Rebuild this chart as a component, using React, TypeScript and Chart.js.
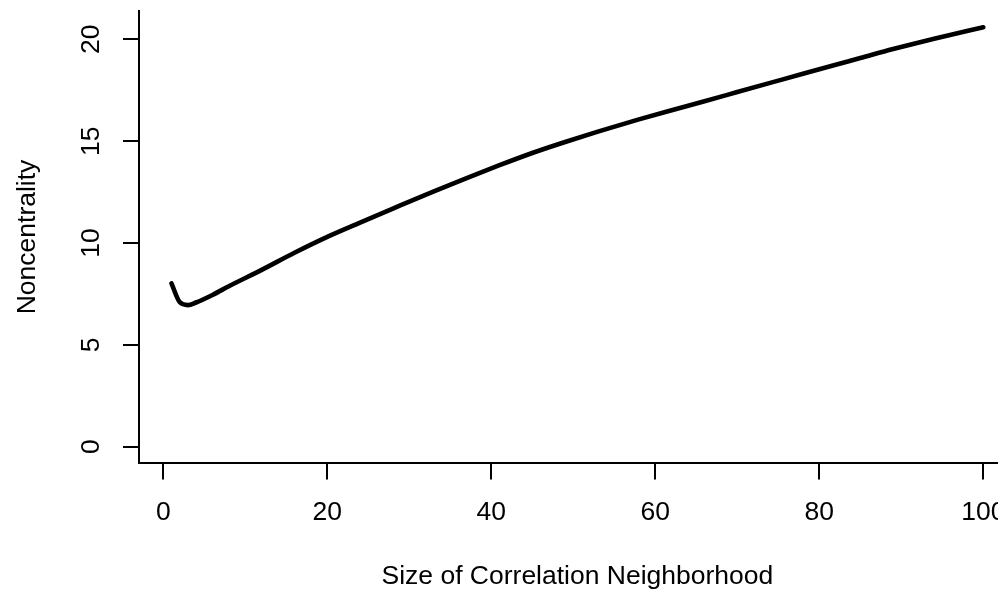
import React, { useEffect, useRef } from 'react';
import { Chart, registerables } from 'chart.js';

Chart.register(...registerables);

// Data
const NEIGHBORHOOD_SIZE = [1, 2, 3, 4, 6, 8, 12, 16, 20, 24, 28, 33, 37, 41, 45, 49, 53, 58, 62, 66, 70, 74, 78, 82, 85, 89, 94, 98, 100];
const NONCENTRALITY = [8.02, 7.1, 6.95, 7.08, 7.45, 7.88, 8.68, 9.52, 10.3, 11.0, 11.69, 12.54, 13.19, 13.82, 14.42, 14.96, 15.47, 16.07, 16.52, 16.96, 17.41, 17.86, 18.31, 18.75, 19.08, 19.52, 20.03, 20.41, 20.59];
const X_TICKS = [0, 20, 40, 60, 80, 100];
const Y_TICKS = [0, 5, 10, 15, 20];
const X_TITLE = 'Size of Correlation Neighborhood';
const Y_TITLE = 'Noncentrality';

const FONT_FAMILY = '"Liberation Sans", Arial, Helvetica, sans-serif';
const FONT_SIZE = 26.5;
const CANVAS_W = 1040;
const CANVAS_H = 592;

const yLabelPlugin = {
  id: 'yRotatedLabels',
  afterDraw(chart: any) {
    const s = chart.scales.y;
    const ctx = chart.ctx;
    ctx.save();
    ctx.fillStyle = '#000';
    ctx.font = `${FONT_SIZE}px ${FONT_FAMILY}`;
    ctx.textAlign = 'center';
    ctx.textBaseline = 'middle';
    const cx = s.right - 47.3;
    for (const t of s.ticks) {
      const py = s.getPixelForValue(t.value);
      ctx.save();
      ctx.translate(cx, py);
      ctx.rotate(-Math.PI / 2);
      ctx.fillText(String(t.value), 0, 0);
      ctx.restore();
    }
    ctx.restore();
  },
};

export default function App() {
  const ref = useRef<HTMLCanvasElement | null>(null);

  useEffect(() => {
    if (!ref.current) return;
    const font = { family: FONT_FAMILY, size: FONT_SIZE };
    const chart = new Chart(ref.current, {
      type: 'line',
      data: {
        datasets: [
          {
            data: NEIGHBORHOOD_SIZE.map((x, i) => ({ x, y: NONCENTRALITY[i] })),
            borderColor: '#000',
            borderWidth: 4.6,
            borderCapStyle: 'round',
            borderJoinStyle: 'round',
            pointRadius: 0,
            cubicInterpolationMode: 'monotone',
            fill: false,
          },
        ],
      },
      options: {
        responsive: false,
        animation: false,
        devicePixelRatio: 1,
        layout: { padding: { left: 0, right: 24.2, top: 10.6, bottom: 0 } },
        plugins: { legend: { display: false }, tooltip: { enabled: false } },
        scales: {
          x: {
            type: 'linear',
            min: -2.96,
            max: 103.96,
            afterBuildTicks: (s: any) => {
              s.ticks = X_TICKS.map((v) => ({ value: v }));
            },
            afterFit: (s: any) => {
              s.height = CANVAS_H - 463.4;
            },
            ticks: { color: '#000', font, padding: 17.2, maxRotation: 0, minRotation: 0, autoSkip: false },
            grid: { drawOnChartArea: false, drawTicks: true, tickLength: 16, color: '#000', lineWidth: 2 },
            border: { display: true, color: '#000', width: 2 },
            title: {
              display: true,
              text: X_TITLE,
              color: '#000',
              font: { family: FONT_FAMILY, size: FONT_SIZE, lineHeight: 1.1 },
              padding: { top: 0, bottom: 0.3 },
            },
          },
          y: {
            type: 'linear',
            min: -0.82,
            max: 21.41,
            afterBuildTicks: (s: any) => {
              s.ticks = Y_TICKS.map((v) => ({ value: v }));
            },
            afterFit: (s: any) => {
              s.width = 139;
            },
            ticks: { display: false },
            grid: { drawOnChartArea: false, drawTicks: true, tickLength: 16, color: '#000', lineWidth: 2 },
            border: { display: true, color: '#000', width: 2 },
            title: { display: true, text: Y_TITLE, color: '#000', font, padding: { top: 11.6, bottom: 0 } },
          },
        },
      },
      plugins: [yLabelPlugin],
    } as any);
    return () => chart.destroy();
  }, []);

  return (
    <div
      style={{
        position: 'absolute',
        left: 0,
        top: 0,
        width: 998,
        height: 592,
        overflow: 'hidden',
        background: '#fff',
      }}
    >
      <canvas
        ref={ref}
        width={CANVAS_W}
        height={CANVAS_H}
        style={{ display: 'block', width: CANVAS_W, height: CANVAS_H }}
      />
    </div>
  );
}
